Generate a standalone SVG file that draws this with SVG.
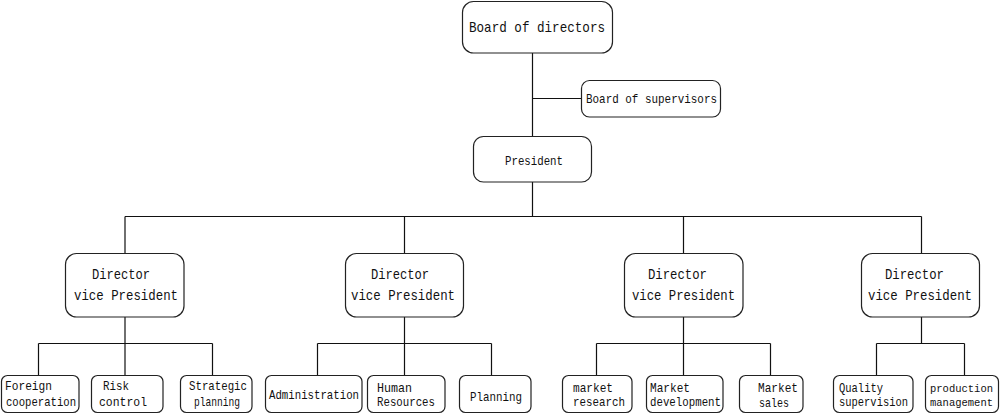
<svg xmlns="http://www.w3.org/2000/svg" width="1000" height="414" viewBox="0 0 1000 414">
<style>
.box{fill:#fff;stroke:#222;stroke-width:1.2}
.ln{fill:none;stroke:#111;stroke-width:1.2}
text{font-family:"Liberation Mono","DejaVu Sans Mono",monospace;fill:#111}
.l{font-size:15px}
.s{font-size:13px}
.xs{font-size:11.5px}
</style>
<rect width="1000" height="414" fill="#fff"/>
<g id="connectors">
<path class="ln" d="M532.5 53V136M532.5 98.5H581M532.5 182V216.5M125 216.5H921.5M125 216.5V253M404.5 216.5V253M683.5 216.5V253M921.5 216.5V253M125 317V343.5M404.5 317V343.5M683.5 317V343.5M921.5 317V343.5M38.5 343.5H212.5M317.5 343.5H491.5M596.5 343.5H770.5M876.5 343.5H964.5M38.5 343.5V375M125 343.5V375M212.5 343.5V375M317.5 343.5V375M404.5 343.5V375M491.5 343.5V375M596.5 343.5V375M683.5 343.5V375M770.5 343.5V375M876.5 343.5V375M964.5 343.5V375"/>
</g>
<g id="board"><rect class="box" x="462.5" y="1.5" width="150" height="51.5" rx="11"/><text class="l" x="469" y="32" textLength="136" lengthAdjust="spacingAndGlyphs">Board of directors</text></g>
<g id="supervisors"><rect class="box" x="581.5" y="80.5" width="139" height="36.5" rx="8"/><text class="s" x="586" y="103" textLength="131" lengthAdjust="spacingAndGlyphs">Board of supervisors</text></g>
<g id="president"><rect class="box" x="473.5" y="136.5" width="118" height="45.5" rx="10"/><text class="s" x="505" y="165" textLength="58" lengthAdjust="spacingAndGlyphs">President</text></g>
<g id="vp1"><rect class="box" x="65.5" y="253.5" width="118.5" height="63.5" rx="11"/><text class="l" x="92" y="279" textLength="58" lengthAdjust="spacingAndGlyphs">Director</text><text class="l" x="74" y="300" textLength="104" lengthAdjust="spacingAndGlyphs">vice President</text></g>
<g id="vp2"><rect class="box" x="345.5" y="253.5" width="118" height="63.5" rx="11"/><text class="l" x="371" y="279" textLength="58" lengthAdjust="spacingAndGlyphs">Director</text><text class="l" x="351" y="300" textLength="104" lengthAdjust="spacingAndGlyphs">vice President</text></g>
<g id="vp3"><rect class="box" x="624.5" y="253.5" width="118.5" height="63.5" rx="11"/><text class="l" x="648" y="279" textLength="59" lengthAdjust="spacingAndGlyphs">Director</text><text class="l" x="632" y="300" textLength="103" lengthAdjust="spacingAndGlyphs">vice President</text></g>
<g id="vp4"><rect class="box" x="861.5" y="253.5" width="118" height="63.5" rx="11"/><text class="l" x="885" y="279" textLength="59" lengthAdjust="spacingAndGlyphs">Director</text><text class="l" x="868" y="300" textLength="104" lengthAdjust="spacingAndGlyphs">vice President</text></g>
<g id="foreign"><rect class="box" x="1.5" y="375.5" width="77.5" height="37" rx="6"/><text class="s" x="5" y="390" textLength="47" lengthAdjust="spacingAndGlyphs">Foreign</text><text class="s" x="6" y="406" textLength="70" lengthAdjust="spacingAndGlyphs">cooperation</text></g>
<g id="risk"><rect class="box" x="91.5" y="375.5" width="71.5" height="37" rx="6"/><text class="s" x="103" y="390" textLength="26" lengthAdjust="spacingAndGlyphs">Risk</text><text class="s" x="99" y="406" textLength="48" lengthAdjust="spacingAndGlyphs">control</text></g>
<g id="strategic"><rect class="box" x="180.5" y="375.5" width="71.5" height="37" rx="6"/><text class="s" x="189" y="390" textLength="58" lengthAdjust="spacingAndGlyphs">Strategic</text><text class="s" x="194" y="406" textLength="46" lengthAdjust="spacingAndGlyphs">planning</text></g>
<g id="admin"><rect class="box" x="265.5" y="375.5" width="96.5" height="37" rx="6"/><text class="s" x="269" y="399" textLength="90" lengthAdjust="spacingAndGlyphs">Administration</text></g>
<g id="hr"><rect class="box" x="367.5" y="375.5" width="77.5" height="37" rx="6"/><text class="s" x="377" y="392" textLength="35" lengthAdjust="spacingAndGlyphs">Human</text><text class="s" x="377" y="406" textLength="58" lengthAdjust="spacingAndGlyphs">Resources</text></g>
<g id="planning"><rect class="box" x="459.5" y="375.5" width="71.5" height="37" rx="6"/><text class="s" x="470" y="401" textLength="52" lengthAdjust="spacingAndGlyphs">Planning</text></g>
<g id="mresearch"><rect class="box" x="562.5" y="375.5" width="69.5" height="37" rx="6"/><text class="s" x="573" y="392" textLength="40" lengthAdjust="spacingAndGlyphs">market</text><text class="s" x="573" y="406" textLength="52" lengthAdjust="spacingAndGlyphs">research</text></g>
<g id="mdev"><rect class="box" x="646.5" y="375.5" width="76.5" height="37" rx="6"/><text class="s" x="650" y="392" textLength="40" lengthAdjust="spacingAndGlyphs">Market</text><text class="s" x="650" y="406" textLength="71" lengthAdjust="spacingAndGlyphs">development</text></g>
<g id="msales"><rect class="box" x="739.5" y="375.5" width="63.5" height="37" rx="6"/><text class="s" x="758" y="392" textLength="40" lengthAdjust="spacingAndGlyphs">Market</text><text class="s" x="759" y="407" textLength="30" lengthAdjust="spacingAndGlyphs">sales</text></g>
<g id="quality"><rect class="box" x="833.5" y="375.5" width="79.5" height="37" rx="6"/><text class="s" x="839" y="392" textLength="44" lengthAdjust="spacingAndGlyphs">Quality</text><text class="s" x="839" y="406" textLength="69" lengthAdjust="spacingAndGlyphs">supervision</text></g>
<g id="production"><rect class="box" x="925.5" y="375.5" width="73" height="37" rx="6"/><text class="xs" x="930" y="392" textLength="63" lengthAdjust="spacingAndGlyphs">production</text><text class="xs" x="930" y="406" textLength="63" lengthAdjust="spacingAndGlyphs">management</text></g>
</svg>
